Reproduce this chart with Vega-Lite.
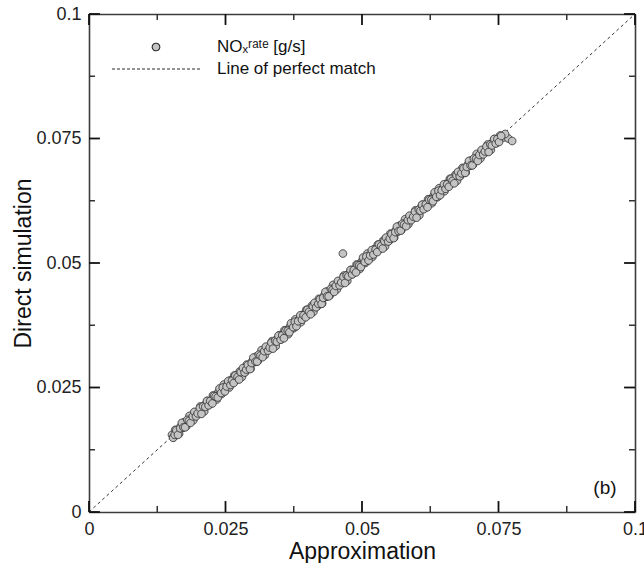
{
 "$schema": "https://vega.github.io/schema/vega-lite/v6.json",
 "width": 546,
 "height": 498,
 "autosize": {"type": "none"},
 "padding": {"left": 89, "top": 14, "right": 9, "bottom": 51},
 "background": "white",
 "config": {
  "view": {"stroke": null},
  "font": "Liberation Sans",
  "axis": {
   "grid": false,
   "domainColor": "#3c3c3c",
   "domainWidth": 1.6,
   "labelFont": "Liberation Sans",
   "labelFontSize": 18,
   "labelColor": "#222222",
   "labelFlush": false,
   "labelOverlap": false,
   "titleFont": "Liberation Sans",
   "titleFontSize": 23,
   "titleFontWeight": "normal",
   "titleColor": "#111111"
  }
 },
 "datasets": {
  "diag": [{"x": 0, "y": 0}, {"x": 0.1, "y": 0.1}],
  "major": [{"v": 0}, {"v": 0.025}, {"v": 0.05}, {"v": 0.075}, {"v": 0.1}],
  "minor": [{"v": 0.0125}, {"v": 0.0375}, {"v": 0.0625}, {"v": 0.0875}],
  "pts": [
{"x":0.0152,"y":0.0155},{"x":0.0155,"y":0.0150},{"x":0.0158,"y":0.0165},{"x":0.0161,"y":0.0161},{"x":0.0165,"y":0.0157},{"x":0.0168,"y":0.0172},{"x":0.0171,"y":0.0169},{"x":0.0174,"y":0.0180},{"x":0.0178,"y":0.0172},{"x":0.0181,"y":0.0182},
{"x":0.0184,"y":0.0193},{"x":0.0188,"y":0.0185},{"x":0.0191,"y":0.0184},{"x":0.0194,"y":0.0199},{"x":0.0197,"y":0.0199},{"x":0.0201,"y":0.0197},{"x":0.0204,"y":0.0212},{"x":0.0207,"y":0.0206},{"x":0.0211,"y":0.0202},{"x":0.0214,"y":0.0217},
{"x":0.0217,"y":0.0223},{"x":0.0220,"y":0.0215},{"x":0.0224,"y":0.0224},{"x":0.0227,"y":0.0234},{"x":0.0230,"y":0.0228},{"x":0.0234,"y":0.0226},{"x":0.0237,"y":0.0241},{"x":0.0240,"y":0.0241},{"x":0.0243,"y":0.0237},{"x":0.0247,"y":0.0256},
{"x":0.0250,"y":0.0247},{"x":0.0253,"y":0.0255},{"x":0.0257,"y":0.0250},{"x":0.0260,"y":0.0265},{"x":0.0263,"y":0.0262},{"x":0.0266,"y":0.0274},{"x":0.0270,"y":0.0266},{"x":0.0273,"y":0.0273},{"x":0.0276,"y":0.0282},{"x":0.0280,"y":0.0271},
{"x":0.0283,"y":0.0286},{"x":0.0286,"y":0.0281},{"x":0.0289,"y":0.0296},{"x":0.0293,"y":0.0293},{"x":0.0296,"y":0.0288},{"x":0.0299,"y":0.0303},{"x":0.0303,"y":0.0301},{"x":0.0306,"y":0.0312},{"x":0.0309,"y":0.0303},{"x":0.0312,"y":0.0313},
{"x":0.0316,"y":0.0325},{"x":0.0319,"y":0.0316},{"x":0.0322,"y":0.0315},{"x":0.0326,"y":0.0331},{"x":0.0329,"y":0.0331},{"x":0.0332,"y":0.0328},{"x":0.0335,"y":0.0343},{"x":0.0339,"y":0.0338},{"x":0.0342,"y":0.0333},{"x":0.0345,"y":0.0348},
{"x":0.0349,"y":0.0355},{"x":0.0352,"y":0.0347},{"x":0.0355,"y":0.0355},{"x":0.0358,"y":0.0365},{"x":0.0362,"y":0.0360},{"x":0.0365,"y":0.0357},{"x":0.0368,"y":0.0372},{"x":0.0372,"y":0.0373},{"x":0.0375,"y":0.0369},{"x":0.0378,"y":0.0387},
{"x":0.0381,"y":0.0378},{"x":0.0385,"y":0.0387},{"x":0.0388,"y":0.0381},{"x":0.0391,"y":0.0396},{"x":0.0395,"y":0.0394},{"x":0.0398,"y":0.0406},{"x":0.0401,"y":0.0397},{"x":0.0404,"y":0.0404},{"x":0.0408,"y":0.0414},{"x":0.0411,"y":0.0402},
{"x":0.0414,"y":0.0417},{"x":0.0418,"y":0.0413},{"x":0.0421,"y":0.0428},{"x":0.0424,"y":0.0424},{"x":0.0427,"y":0.0419},{"x":0.0431,"y":0.0435},{"x":0.0434,"y":0.0432},{"x":0.0437,"y":0.0443},{"x":0.0441,"y":0.0435},{"x":0.0444,"y":0.0445},
{"x":0.0447,"y":0.0456},{"x":0.0450,"y":0.0447},{"x":0.0454,"y":0.0447},{"x":0.0457,"y":0.0462},{"x":0.0460,"y":0.0462},{"x":0.0464,"y":0.0460},{"x":0.0467,"y":0.0475},{"x":0.0470,"y":0.0469},{"x":0.0473,"y":0.0464},{"x":0.0477,"y":0.0480},
{"x":0.0480,"y":0.0486},{"x":0.0483,"y":0.0478},{"x":0.0487,"y":0.0487},{"x":0.0490,"y":0.0497},{"x":0.0493,"y":0.0491},{"x":0.0496,"y":0.0488},{"x":0.0500,"y":0.0504},{"x":0.0503,"y":0.0504},{"x":0.0506,"y":0.0500},{"x":0.0510,"y":0.0519},
{"x":0.0513,"y":0.0510},{"x":0.0516,"y":0.0518},{"x":0.0519,"y":0.0512},{"x":0.0523,"y":0.0528},{"x":0.0526,"y":0.0525},{"x":0.0529,"y":0.0537},{"x":0.0533,"y":0.0529},{"x":0.0536,"y":0.0536},{"x":0.0539,"y":0.0545},{"x":0.0542,"y":0.0533},
{"x":0.0546,"y":0.0549},{"x":0.0549,"y":0.0544},{"x":0.0552,"y":0.0559},{"x":0.0556,"y":0.0556},{"x":0.0559,"y":0.0551},{"x":0.0562,"y":0.0566},{"x":0.0565,"y":0.0563},{"x":0.0569,"y":0.0575},{"x":0.0572,"y":0.0566},{"x":0.0575,"y":0.0576},
{"x":0.0579,"y":0.0588},{"x":0.0582,"y":0.0579},{"x":0.0585,"y":0.0578},{"x":0.0588,"y":0.0593},{"x":0.0592,"y":0.0594},{"x":0.0595,"y":0.0591},{"x":0.0598,"y":0.0606},{"x":0.0602,"y":0.0601},{"x":0.0605,"y":0.0596},{"x":0.0608,"y":0.0611},
{"x":0.0611,"y":0.0617},{"x":0.0615,"y":0.0610},{"x":0.0618,"y":0.0618},{"x":0.0621,"y":0.0628},{"x":0.0625,"y":0.0623},{"x":0.0628,"y":0.0620},{"x":0.0631,"y":0.0635},{"x":0.0634,"y":0.0635},{"x":0.0638,"y":0.0632},{"x":0.0641,"y":0.0650},
{"x":0.0644,"y":0.0641},{"x":0.0648,"y":0.0650},{"x":0.0651,"y":0.0644},{"x":0.0654,"y":0.0659},{"x":0.0657,"y":0.0656},{"x":0.0661,"y":0.0669},{"x":0.0664,"y":0.0660},{"x":0.0667,"y":0.0667},{"x":0.0671,"y":0.0677},{"x":0.0674,"y":0.0665},
{"x":0.0677,"y":0.0680},{"x":0.0680,"y":0.0675},{"x":0.0684,"y":0.0691},{"x":0.0687,"y":0.0687},{"x":0.0690,"y":0.0682},{"x":0.0694,"y":0.0698},{"x":0.0697,"y":0.0695},{"x":0.0700,"y":0.0706},{"x":0.0703,"y":0.0697},{"x":0.0707,"y":0.0708},
{"x":0.0710,"y":0.0719},{"x":0.0713,"y":0.0710},{"x":0.0717,"y":0.0710},{"x":0.0720,"y":0.0725},{"x":0.0723,"y":0.0725},{"x":0.0726,"y":0.0722},{"x":0.0730,"y":0.0738},{"x":0.0733,"y":0.0732},{"x":0.0736,"y":0.0727},{"x":0.0740,"y":0.0743},
{"x":0.0743,"y":0.0749},{"x":0.0746,"y":0.0741},{"x":0.0749,"y":0.0749},{"x":0.0753,"y":0.0756},{"x":0.0756,"y":0.0754},{"x":0.0760,"y":0.0752},{"x":0.0768,"y":0.0750},{"x":0.0775,"y":0.0745},{"x":0.0762,"y":0.0759},
{"x":0.0465,"y":0.0519},
{"x":0.0154,"y":0.0149},{"x":0.0157,"y":0.0155},{"x":0.0160,"y":0.0164},{"x":0.0163,"y":0.0155},{"x":0.0167,"y":0.0168},{"x":0.0170,"y":0.0179},{"x":0.0173,"y":0.0170},{"x":0.0176,"y":0.0170},{"x":0.0180,"y":0.0185},{"x":0.0183,"y":0.0183},
{"x":0.0186,"y":0.0179},{"x":0.0190,"y":0.0192},{"x":0.0193,"y":0.0201},{"x":0.0196,"y":0.0192},{"x":0.0199,"y":0.0198},{"x":0.0203,"y":0.0209},{"x":0.0206,"y":0.0197},{"x":0.0209,"y":0.0212},{"x":0.0213,"y":0.0211},{"x":0.0216,"y":0.0223},
{"x":0.0219,"y":0.0214},{"x":0.0222,"y":0.0223},{"x":0.0226,"y":0.0218},{"x":0.0229,"y":0.0233},{"x":0.0232,"y":0.0232},{"x":0.0236,"y":0.0230},{"x":0.0239,"y":0.0248},{"x":0.0242,"y":0.0239},{"x":0.0245,"y":0.0250},{"x":0.0249,"y":0.0242},
{"x":0.0252,"y":0.0252},{"x":0.0255,"y":0.0263},{"x":0.0259,"y":0.0255},{"x":0.0262,"y":0.0264},{"x":0.0265,"y":0.0259},{"x":0.0268,"y":0.0274},{"x":0.0272,"y":0.0271},{"x":0.0275,"y":0.0266},{"x":0.0278,"y":0.0281},{"x":0.0282,"y":0.0289},
{"x":0.0285,"y":0.0280},{"x":0.0288,"y":0.0286},{"x":0.0291,"y":0.0295},{"x":0.0295,"y":0.0287},{"x":0.0298,"y":0.0299},{"x":0.0301,"y":0.0310},{"x":0.0305,"y":0.0302},{"x":0.0308,"y":0.0302},{"x":0.0311,"y":0.0316},{"x":0.0314,"y":0.0314},
{"x":0.0318,"y":0.0311},{"x":0.0321,"y":0.0323},{"x":0.0324,"y":0.0332},{"x":0.0328,"y":0.0324},{"x":0.0331,"y":0.0330},{"x":0.0334,"y":0.0340},{"x":0.0337,"y":0.0328},{"x":0.0341,"y":0.0344},{"x":0.0344,"y":0.0342},{"x":0.0347,"y":0.0354},
{"x":0.0351,"y":0.0346},{"x":0.0354,"y":0.0355},{"x":0.0357,"y":0.0349},{"x":0.0360,"y":0.0364},{"x":0.0364,"y":0.0364},{"x":0.0367,"y":0.0361},{"x":0.0370,"y":0.0379},{"x":0.0374,"y":0.0371},{"x":0.0377,"y":0.0382},{"x":0.0380,"y":0.0373},
{"x":0.0383,"y":0.0383},{"x":0.0387,"y":0.0395},{"x":0.0390,"y":0.0386},{"x":0.0393,"y":0.0395},{"x":0.0397,"y":0.0391},{"x":0.0400,"y":0.0406},{"x":0.0403,"y":0.0402},{"x":0.0406,"y":0.0397},{"x":0.0410,"y":0.0413},{"x":0.0413,"y":0.0420},
{"x":0.0416,"y":0.0411},{"x":0.0420,"y":0.0418},{"x":0.0423,"y":0.0427},{"x":0.0426,"y":0.0418},{"x":0.0429,"y":0.0430},{"x":0.0433,"y":0.0442},{"x":0.0436,"y":0.0433},{"x":0.0439,"y":0.0433},{"x":0.0443,"y":0.0448},{"x":0.0446,"y":0.0446},
{"x":0.0449,"y":0.0442},{"x":0.0452,"y":0.0454},{"x":0.0456,"y":0.0464},{"x":0.0459,"y":0.0455},{"x":0.0462,"y":0.0461},{"x":0.0466,"y":0.0472},{"x":0.0469,"y":0.0460},{"x":0.0472,"y":0.0475},{"x":0.0475,"y":0.0473},{"x":0.0479,"y":0.0486},
{"x":0.0482,"y":0.0477},{"x":0.0485,"y":0.0486},{"x":0.0489,"y":0.0481},{"x":0.0492,"y":0.0496},{"x":0.0495,"y":0.0495},{"x":0.0498,"y":0.0492},{"x":0.0502,"y":0.0511},{"x":0.0505,"y":0.0502},{"x":0.0508,"y":0.0513},{"x":0.0512,"y":0.0505},
{"x":0.0515,"y":0.0515},{"x":0.0518,"y":0.0526},{"x":0.0521,"y":0.0517},{"x":0.0525,"y":0.0527},{"x":0.0528,"y":0.0522},{"x":0.0531,"y":0.0537},{"x":0.0535,"y":0.0534},{"x":0.0538,"y":0.0529},{"x":0.0541,"y":0.0544},{"x":0.0544,"y":0.0551},
{"x":0.0548,"y":0.0543},{"x":0.0551,"y":0.0549},{"x":0.0554,"y":0.0558},{"x":0.0558,"y":0.0550},{"x":0.0561,"y":0.0562},{"x":0.0564,"y":0.0573},{"x":0.0567,"y":0.0564},{"x":0.0571,"y":0.0565},{"x":0.0574,"y":0.0579},{"x":0.0577,"y":0.0577},
{"x":0.0581,"y":0.0574},{"x":0.0584,"y":0.0586},{"x":0.0587,"y":0.0595},{"x":0.0590,"y":0.0586},{"x":0.0594,"y":0.0593},{"x":0.0597,"y":0.0603},{"x":0.0600,"y":0.0591},{"x":0.0604,"y":0.0607},{"x":0.0607,"y":0.0605},{"x":0.0610,"y":0.0617},
{"x":0.0613,"y":0.0608},{"x":0.0617,"y":0.0618},{"x":0.0620,"y":0.0612},{"x":0.0623,"y":0.0627},{"x":0.0627,"y":0.0627},{"x":0.0630,"y":0.0624},{"x":0.0633,"y":0.0642},{"x":0.0636,"y":0.0633},{"x":0.0640,"y":0.0645},{"x":0.0643,"y":0.0636},
{"x":0.0646,"y":0.0646},{"x":0.0650,"y":0.0658},{"x":0.0653,"y":0.0649},{"x":0.0656,"y":0.0658},{"x":0.0659,"y":0.0653},{"x":0.0663,"y":0.0669},{"x":0.0666,"y":0.0665},{"x":0.0669,"y":0.0660},{"x":0.0673,"y":0.0676},{"x":0.0676,"y":0.0683},
{"x":0.0679,"y":0.0674},{"x":0.0682,"y":0.0680},{"x":0.0686,"y":0.0690},{"x":0.0689,"y":0.0681},{"x":0.0692,"y":0.0693},{"x":0.0696,"y":0.0705},{"x":0.0699,"y":0.0696},{"x":0.0702,"y":0.0696},{"x":0.0705,"y":0.0710},{"x":0.0709,"y":0.0709},
{"x":0.0712,"y":0.0705},{"x":0.0715,"y":0.0717},{"x":0.0719,"y":0.0727},{"x":0.0722,"y":0.0718},{"x":0.0725,"y":0.0724},{"x":0.0728,"y":0.0734},{"x":0.0732,"y":0.0723},{"x":0.0735,"y":0.0738},{"x":0.0738,"y":0.0736},{"x":0.0742,"y":0.0749},
{"x":0.0745,"y":0.0740},{"x":0.0748,"y":0.0749},{"x":0.0751,"y":0.0743},{"x":0.0755,"y":0.0755}
  ]
 },
 "layer": [
  {
   "data": {"name": "diag"},
   "mark": {"type": "line", "color": "#333333", "strokeWidth": 1, "strokeDash": [3, 3]},
   "encoding": {
    "x": {"field": "x", "type": "quantitative", "scale": {"domain": [0, 0.1], "nice": false, "zero": true},
     "axis": {"orient": "bottom", "title": "Approximation", "titlePadding": 2, "domain": true, "labels": true, "ticks": false, "labelPadding": 8,
      "values": [0, 0.025, 0.05, 0.075, 0.1], "labelExpr": "format(datum.value, '.3~f')"}},
    "y": {"field": "y", "type": "quantitative", "scale": {"domain": [0, 0.1], "nice": false, "zero": true},
     "axis": {"orient": "left", "title": "Direct simulation", "titlePadding": 0, "domain": true, "labels": true, "ticks": false, "labelPadding": 8,
      "values": [0, 0.025, 0.05, 0.075, 0.1], "labelExpr": "format(datum.value, '.3~f')"}}
   }
  },
  {"data": {"name": "major"}, "mark": {"type": "rule", "color": "#111111", "strokeWidth": 1.8},
   "encoding": {"x": {"field": "v", "type": "quantitative", "axis": null}, "y": {"datum": 0, "type": "quantitative", "axis": null}, "y2": {"datum": 0.0022}}},
  {"data": {"name": "minor"}, "mark": {"type": "rule", "color": "#333333", "strokeWidth": 1.5},
   "encoding": {"x": {"field": "v", "type": "quantitative", "axis": null}, "y": {"datum": 0, "type": "quantitative", "axis": null}, "y2": {"datum": 0.0012}}},
  {"data": {"name": "major"}, "mark": {"type": "rule", "color": "#111111", "strokeWidth": 1.8},
   "encoding": {"x": {"field": "v", "type": "quantitative", "axis": null}, "y": {"datum": 0.1, "type": "quantitative", "axis": null}, "y2": {"datum": 0.0978}}},
  {"data": {"name": "minor"}, "mark": {"type": "rule", "color": "#333333", "strokeWidth": 1.5},
   "encoding": {"x": {"field": "v", "type": "quantitative", "axis": null}, "y": {"datum": 0.1, "type": "quantitative", "axis": null}, "y2": {"datum": 0.0988}}},
  {"data": {"name": "major"}, "mark": {"type": "rule", "color": "#111111", "strokeWidth": 1.8},
   "encoding": {"y": {"field": "v", "type": "quantitative", "axis": null}, "x": {"datum": 0, "type": "quantitative", "axis": null}, "x2": {"datum": 0.002}}},
  {"data": {"name": "minor"}, "mark": {"type": "rule", "color": "#333333", "strokeWidth": 1.5},
   "encoding": {"y": {"field": "v", "type": "quantitative", "axis": null}, "x": {"datum": 0, "type": "quantitative", "axis": null}, "x2": {"datum": 0.0011}}},
  {"data": {"name": "major"}, "mark": {"type": "rule", "color": "#111111", "strokeWidth": 1.8},
   "encoding": {"y": {"field": "v", "type": "quantitative", "axis": null}, "x": {"datum": 0.1, "type": "quantitative", "axis": null}, "x2": {"datum": 0.098}}},
  {"data": {"name": "minor"}, "mark": {"type": "rule", "color": "#333333", "strokeWidth": 1.5},
   "encoding": {"y": {"field": "v", "type": "quantitative", "axis": null}, "x": {"datum": 0.1, "type": "quantitative", "axis": null}, "x2": {"datum": 0.0989}}},
  {
   "data": {"name": "pts"},
   "mark": {"type": "point", "filled": true, "stroke": "#2a2a2a", "strokeWidth": 0.9, "opacity": 1},
   "encoding": {
    "x": {"field": "x", "type": "quantitative", "scale": {"domain": [0, 0.1], "nice": false, "zero": true},
     "axis": {"orient": "top", "title": null, "domain": true, "labels": false, "ticks": false, "values": [0.05]}},
    "y": {"field": "y", "type": "quantitative", "scale": {"domain": [0, 0.1], "nice": false, "zero": true},
     "axis": {"orient": "right", "title": null, "domain": true, "labels": false, "ticks": false, "values": [0.05]}},
    "shape": {"datum": "NOₓʳᵃᵗᵉ [g/s]", "type": "nominal",
     "scale": {"domain": ["NOₓʳᵃᵗᵉ [g/s]", "Line of perfect match"], "range": ["circle", "stroke"]},
     "legend": {"orient": "none", "legendX": 22, "legendY": 22, "title": null, "padding": 0,
      "clipHeight": 22, "rowPadding": 0, "labelOffset": 16, "symbolStrokeColor": "#2a2a2a", "symbolStrokeWidth": 1.1,
      "labelFont": "Liberation Sans", "labelFontSize": 17, "labelColor": "#111111"}},
    "size": {"datum": "NOₓʳᵃᵗᵉ [g/s]", "type": "ordinal",
     "scale": {"domain": ["NOₓʳᵃᵗᵉ [g/s]", "Line of perfect match"], "range": [58, 7744]}},
    "color": {"datum": "NOₓʳᵃᵗᵉ [g/s]", "type": "nominal",
     "scale": {"domain": ["NOₓʳᵃᵗᵉ [g/s]", "Line of perfect match"], "range": ["#c4c4c4", "transparent"]}},
    "strokeDash": {"datum": "NOₓʳᵃᵗᵉ [g/s]", "type": "nominal",
     "scale": {"domain": ["NOₓʳᵃᵗᵉ [g/s]", "Line of perfect match"], "range": [[1, 0], [3, 2]]}}
   }
  },
  {
   "data": {"values": [{"label": "(b)"}]},
   "mark": {"type": "text", "font": "Liberation Sans", "fontSize": 19, "color": "#111111", "align": "center", "baseline": "middle"},
   "encoding": {
    "x": {"datum": 0.0945, "type": "quantitative", "axis": null},
    "y": {"datum": 0.0048, "type": "quantitative", "axis": null},
    "text": {"field": "label"}
   }
  }
 ],
 "resolve": {"axis": {"x": "independent", "y": "independent"}}
}
